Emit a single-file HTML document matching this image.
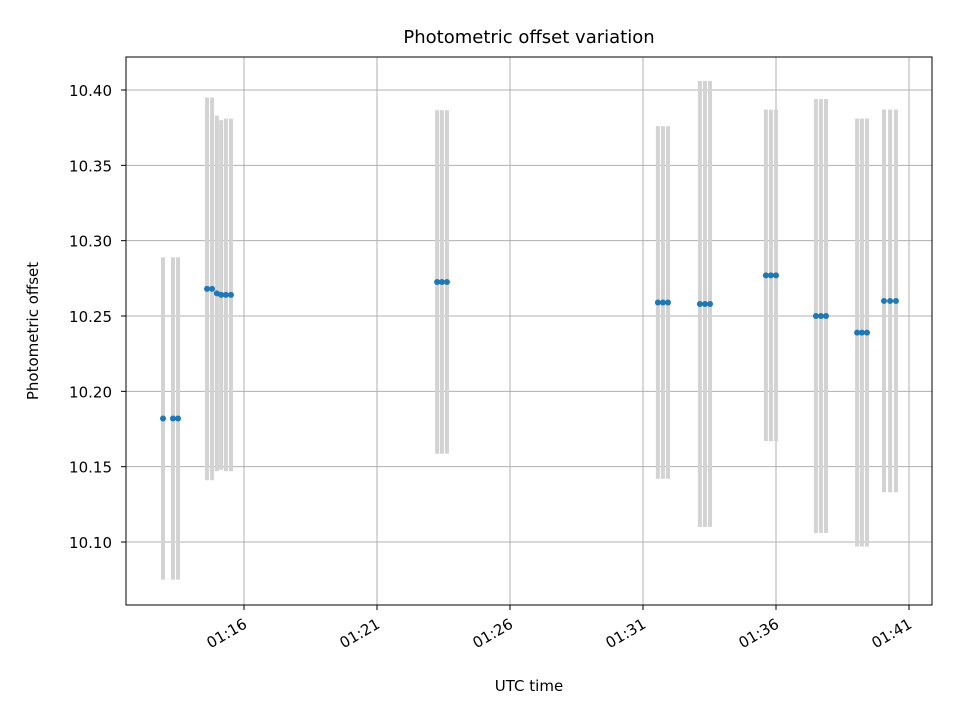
<!DOCTYPE html>
<html><head><meta charset="utf-8"><style>body{margin:0;background:#fff}svg{display:block;font-family:"DejaVu Sans","Liberation Sans",sans-serif}</style></head>
<body>
<svg id="c" width="960" height="720"></svg>
<script>
const times=[12.955,13.33,13.52,14.61,14.80,14.98,15.14,15.32,15.51,23.26,23.44,23.63,31.56,31.75,31.94,33.14,33.33,33.52,35.62,35.81,36.0,37.50,37.69,37.88,39.05,39.23,39.42,40.06,40.29,40.51];
const offsets=[10.182,10.182,10.182,10.268,10.268,10.265,10.264,10.264,10.264,10.2726,10.2726,10.2726,10.259,10.259,10.259,10.258,10.258,10.258,10.277,10.277,10.277,10.250,10.250,10.250,10.239,10.239,10.239,10.260,10.260,10.260];
const errors=[0.107,0.107,0.107,0.127,0.127,0.118,0.116,0.117,0.117,0.114,0.114,0.114,0.117,0.117,0.117,0.148,0.148,0.148,0.110,0.110,0.110,0.144,0.144,0.144,0.142,0.142,0.142,0.127,0.127,0.127];
const xTicks=[16,21,26,31,36,41];
const xTickLabels=["01:16","01:21","01:26","01:31","01:36","01:41"];
const yTicks=[10.10,10.15,10.20,10.25,10.30,10.35,10.40];
const yTickLabels=["10.10","10.15","10.20","10.25","10.30","10.35","10.40"];
const L=126,R=932,T=57,B=605,x0=11.564,x1=41.865,y0=10.0582,y1=10.4219;
const sx=v=>L+(v-x0)/(x1-x0)*(R-L), sy=v=>B-(v-y0)/(y1-y0)*(B-T);
const svg=document.getElementById('c');const NS='http://www.w3.org/2000/svg';
function mk(t,a,p){const e=document.createElementNS(NS,t);for(const k in a)e.setAttribute(k,a[k]);(p||svg).appendChild(e);return e;}
const grid=mk('g',{});


xTicks.forEach((t,i)=>{const x=sx(t);
 mk('line',{x1:x,x2:x,y1:T,y2:B,stroke:'#b0b0b0','stroke-width':1},grid);
 mk('line',{x1:x,x2:x,y1:B,y2:B+5,stroke:'#000'});
 const ax=x+4, ay=B+22;
 const tx=mk('text',{x:ax,y:ay,'font-size':15,'text-anchor':'end',transform:`rotate(-30 ${ax} ${ay})`});
 tx.textContent=xTickLabels[i];
 
 });
yTicks.forEach((t,i)=>{const y=sy(t);
 mk('line',{x1:L,x2:R,y1:y,y2:y,stroke:'#b0b0b0','stroke-width':1},grid);
 mk('line',{x1:L-5,x2:L,y1:y,y2:y,stroke:'#000'});
 const tx=mk('text',{x:L-14,y:y+6,'font-size':15,'text-anchor':'end'});
 tx.textContent=yTickLabels[i];
 
 });
const eb=mk('g',{});


times.forEach((t,i)=>{const x=sx(t);mk('rect',{x:x-2,y:sy(offsets[i]+errors[i]),width:4,height:sy(offsets[i]-errors[i])-sy(offsets[i]+errors[i]),fill:'#d3d3d3'},eb);});
const pts=mk('g',{});


times.forEach((t,i)=>{const c=mk('circle',{cx:sx(t),cy:sy(offsets[i]),r:3,fill:'#1f77b4'},pts);
 
 });
const fr=mk('rect',{x:L,y:T,width:R-L,height:B-T,fill:'none',stroke:'#000','stroke-width':1});


const ti=mk('text',{x:(L+R)/2,y:43,'font-size':18,'text-anchor':'middle'});ti.textContent='Photometric offset variation';


const xl=mk('text',{x:(L+R)/2,y:691,'font-size':15,'text-anchor':'middle'});xl.textContent='UTC time';


const yl=mk('text',{x:38,y:331,'font-size':15,'text-anchor':'middle',transform:'rotate(-90 38 331)'});yl.textContent='Photometric offset';


</script>
</body></html>
